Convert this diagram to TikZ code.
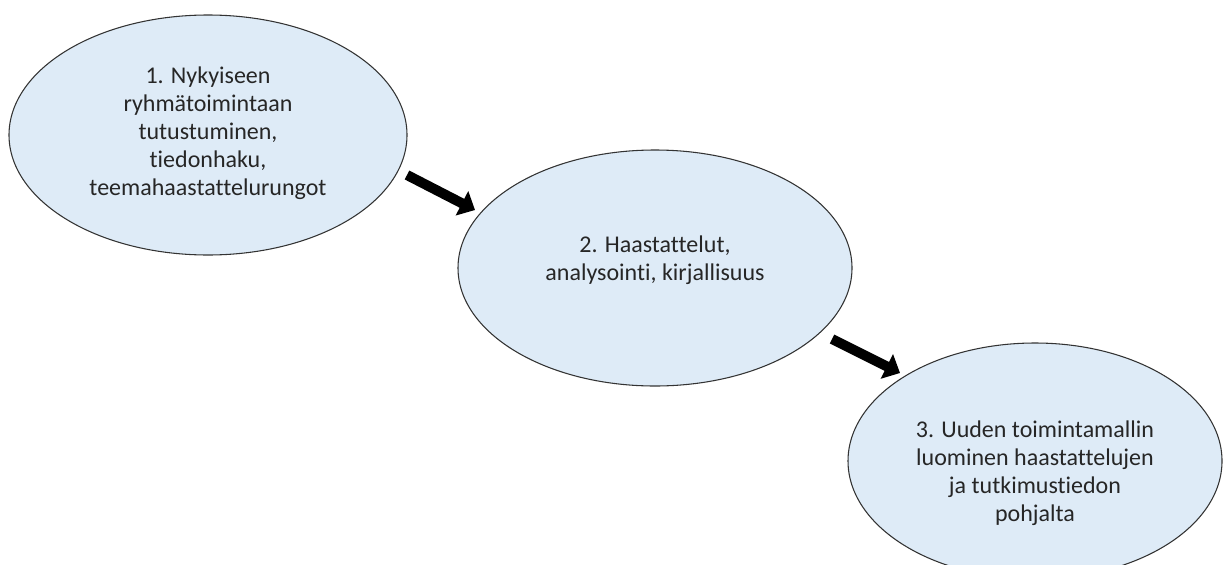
\documentclass[tikz,border=0pt]{standalone}
\usepackage{fontspec}
\setmainfont[Ligatures={NoCommon}]{Carlito}
\usetikzlibrary{arrows.meta,shapes.geometric,positioning}
\definecolor{vaalea}{HTML}{DEEBF7}

\begin{document}
\begin{tikzpicture}
    [
        x=0.75pt, y=-0.75pt,
        vaihe/.style={ellipse, draw=black!80, line width=0.8pt, fill=vaalea, inner sep=0pt},
        teksti/.style={align=center, inner sep=0pt, text=black!85, font=\fontsize{18}{21}\selectfont},
        nuoli/.style={-{Triangle[length=11pt,width=20pt]}, line width=7.5pt, black}
    ]
    \useasboundingbox (0,0) rectangle (1223,564);

    % vaiheet
    \node[vaihe, minimum width=298.5pt, minimum height=180pt] (v1) at (208,135) {};
    \node[vaihe, minimum width=295.5pt, minimum height=177pt] (v2) at (655,268) {};
    \node[vaihe, minimum width=280.5pt, minimum height=177pt] (v3) at (1035,461) {};

    \node[teksti] (t1) at ([yshift=1pt]v1.center)
        {1. Nykyiseen\\ryhmätoimintaan\\tutustuminen,\\tiedonhaku,\\teemahaastattelurungot};
    \node[teksti] (t2) at ([yshift=6pt]v2.center)
        {2. Haastattelut,\\analysointi, kirjallisuus};
    \node[teksti] (t3) at ([yshift=-9pt]v3.center)
        {3. Uuden toimintamallin\\luominen haastattelujen\\ja tutkimustiedon\\pohjalta};

    % nuolet
    \coordinate (n1a) at (407,175);
    \coordinate (n1b) at (475,210);
    \coordinate (n2a) at (832,339);
    \coordinate (n2b) at (900,373);
    \draw[nuoli] (n1a) -- (n1b);
    \draw[nuoli] (n2a) -- (n2b);
\end{tikzpicture}
\end{document}
